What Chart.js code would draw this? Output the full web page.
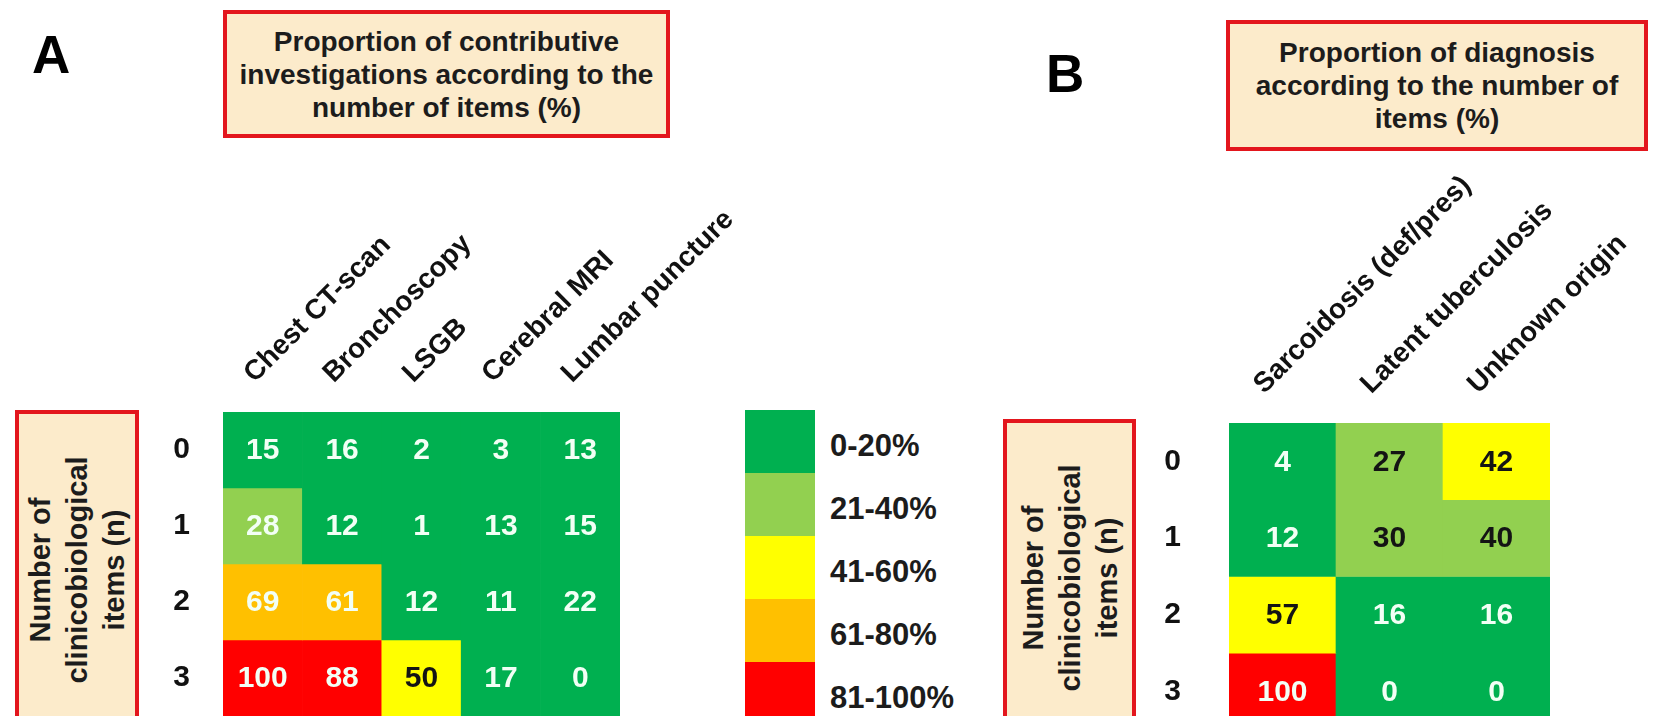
<!DOCTYPE html>
<html>
<head>
<meta charset="utf-8">
<script src="https://cdn.jsdelivr.net/npm/chart.js@4.4.1/dist/chart.umd.min.js"></script>
<style>
html,body{margin:0;padding:0;width:1678px;height:716px;overflow:hidden;background:#fff;font-family:'Liberation Sans',Arial,Helvetica,sans-serif;}
.letter{position:absolute;font-weight:bold;font-size:53px;line-height:53px;color:#000;}
.tbox{position:absolute;box-sizing:border-box;border:4px solid #E3161D;background:#FCEBCB;display:flex;align-items:center;justify-content:center;text-align:center;font-weight:bold;font-size:28px;line-height:33px;color:#1c1c1c;}
.ybox{position:absolute;box-sizing:border-box;border:4px solid #E3161D;background:#FCEBCB;}
.ytext{position:absolute;left:50%;transform:translate(-50%,-50%) rotate(-90deg);white-space:nowrap;text-align:center;font-weight:bold;font-size:29px;line-height:37px;color:#1c1c1c;}
.lgbox{position:absolute;left:745px;width:70px;}
.lgtext{position:absolute;left:830px;font-weight:bold;font-size:31px;line-height:31px;color:#1c1c1c;transform:translateY(-50%);white-space:nowrap;}
canvas{position:absolute;top:0;}
</style>
</head>
<body>
<div class="letter" style="left:32px;top:28px;">A</div>
<div class="tbox" style="left:223px;top:10px;width:447px;height:128px;">Proportion of contributive<br>investigations according to the<br>number of items (%)</div>

<div class="letter" style="left:1046px;top:47px;">B</div>
<div class="tbox" style="left:1226px;top:20px;width:422px;height:131px;">Proportion of diagnosis<br>according to the number of<br>items (%)</div>

<div class="ybox" style="left:15px;top:410px;width:124px;height:320px;"><div class="ytext" style="top:156px;">Number of<br>clinicobiological<br>items (n)</div></div>
<div class="ybox" style="left:1003px;top:419px;width:133px;height:320px;"><div class="ytext" style="top:155px;">Number of<br>clinicobiological<br>items (n)</div></div>

<div id="legend"></div>

<canvas id="chartA" width="760" height="716" style="left:0px;width:760px;height:716px;"></canvas>
<canvas id="chartB" width="778" height="730" style="left:900px;width:778px;height:730px;"></canvas>

<script>
// ---------- DATA ----------
const rowLabels = ['0', '1', '2', '3'];

const colsA = ['Chest CT-scan', 'Bronchoscopy', 'LSGB', 'Cerebral MRI', 'Lumbar puncture'];
const valuesA = [
  [15, 16, 2, 3, 13],
  [28, 12, 1, 13, 15],
  [69, 61, 12, 11, 22],
  [100, 88, 50, 17, 0]
];
// colour class shown for each cell (0: 0-20, 1: 21-40, 2: 41-60, 3: 61-80, 4: 81-100)
const binsA = [
  [0, 0, 0, 0, 0],
  [1, 0, 0, 0, 0],
  [3, 3, 0, 0, 0],
  [4, 4, 2, 0, 0]
];

const colsB = ['Sarcoidosis (def/pres)', 'Latent tuberculosis', 'Unknown origin'];
const valuesB = [
  [4, 27, 42],
  [12, 30, 40],
  [57, 16, 16],
  [100, 0, 0]
];
const binsB = [
  [0, 1, 2],
  [0, 1, 1],
  [2, 0, 0],
  [4, 0, 0]
];

const legendLabels = ['0-20%', '21-40%', '41-60%', '61-80%', '81-100%'];

// ---------- STYLE ----------
const palette = ['#00B050', '#92D050', '#FFFF00', '#FFC000', '#FF0000'];
const FONT = "'Liberation Sans', Arial, Helvetica, sans-serif";

// legend
(function () {
  const lg = document.getElementById('legend');
  const top0 = 410, segH = 63;
  legendLabels.forEach((lab, i) => {
    const b = document.createElement('div');
    b.className = 'lgbox';
    b.style.top = (top0 + i * segH) + 'px';
    b.style.height = segH + 'px';
    b.style.background = palette[i];
    lg.appendChild(b);
    const t = document.createElement('div');
    t.className = 'lgtext';
    t.style.top = (top0 + i * segH + segH / 2 + 3) + 'px';
    t.textContent = lab;
    lg.appendChild(t);
  });
})();

const cellLabels = {
  id: 'cellLabels',
  afterDatasetsDraw(chart, args, opts) {
    const ctx = chart.ctx;
    ctx.save();
    ctx.font = 'bold 30px ' + FONT;
    ctx.textAlign = 'center';
    ctx.textBaseline = 'middle';
    chart.data.datasets.forEach((ds, r) => {
      const meta = chart.getDatasetMeta(r);
      meta.data.forEach((bar, c) => {
        const p = bar.getProps(['x', 'y', 'base'], true);
        const bin = opts.bins[r][c];
        ctx.fillStyle = opts.darkBins.includes(bin) ? '#141414' : '#F2FFF5';
        ctx.fillText(String(opts.values[r][c]), p.x, (p.y + p.base) / 2 + 1);
      });
    });
    ctx.restore();
  }
};

function makeHeatmap(id, cols, values, bins, darkBins, geo) {
  const datasets = rowLabels.map((lab, r) => ({
    label: lab,
    data: cols.map(() => [r - 0.5, r + 0.5]),
    backgroundColor: bins[r].map(b => palette[b]),
    borderWidth: 0,
    borderSkipped: false,
    grouped: false,
    barPercentage: 1,
    categoryPercentage: 1
  }));
  return new Chart(document.getElementById(id), {
    type: 'bar',
    data: { labels: cols, datasets },
    plugins: [cellLabels],
    options: {
      responsive: false,
      devicePixelRatio: 1,
      animation: false,
      events: [],
      layout: { padding: { left: 0, top: 0, right: geo.padRight, bottom: 0 } },
      plugins: {
        legend: { display: false },
        tooltip: { enabled: false },
        cellLabels: { values, bins, darkBins }
      },
      scales: {
        x: {
          type: 'category',
          position: 'top',
          offset: true,
          grid: { display: false, drawTicks: false },
          border: { display: false },
          ticks: {
            autoSkip: false,
            maxRotation: 45,
            minRotation: 45,
            padding: geo.xPad,
            labelOffset: geo.labelOffset,
            color: '#111',
            font: { family: FONT, size: 28, weight: 'bold' }
          },
          afterFit(s) { s.height = geo.top; s.paddingLeft = 0; s.paddingRight = 0; }
        },
        y: {
          type: 'linear',
          min: -0.5,
          max: 3.5,
          reverse: true,
          grid: { display: false, drawTicks: false },
          border: { display: false },
          afterBuildTicks(s) { s.ticks = rowLabels.map((_, i) => ({ value: i })); },
          ticks: {
            autoSkip: false,
            padding: geo.yPad,
            color: '#111',
            font: { family: FONT, size: 30, weight: 'bold' },
            callback: (v) => rowLabels[v]
          },
          afterFit(s) { s.width = geo.left; s.paddingTop = 0; s.paddingBottom = 0; }
        }
      }
    }
  });
}

makeHeatmap('chartA', colsA, valuesA, binsA, [2], { left: 223, top: 412, padRight: 140, xPad: 22, yPad: 33, labelOffset: 10 });
makeHeatmap('chartB', colsB, valuesB, binsB, [1, 2], { left: 329, top: 423, padRight: 128, xPad: 22, yPad: 48, labelOffset: 0 });
</script>
</body>
</html>
